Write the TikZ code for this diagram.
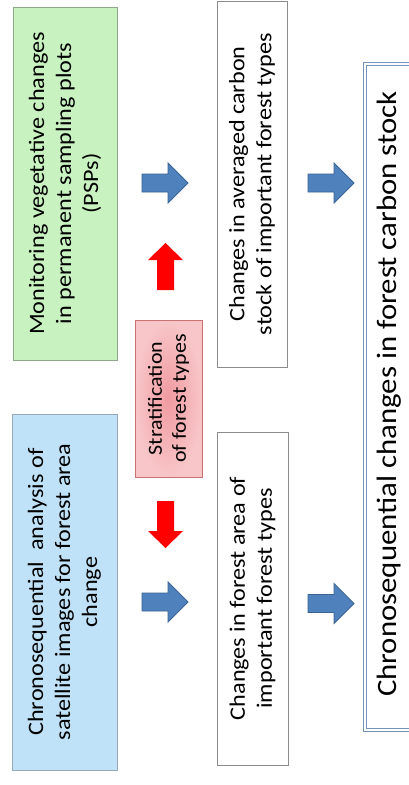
\documentclass[tikz,border=0pt]{standalone}
\usepackage{fontspec}
\setmainfont[FakeStretch=1.1]{Carlito}
\definecolor{greenfill}{HTML}{C8F2C0}
\definecolor{greenline}{HTML}{8FA58C}
\definecolor{bluefill}{HTML}{C0E2F8}
\definecolor{blueline}{HTML}{98A8B8}
\definecolor{redlight}{HTML}{F8C6C8}
\definecolor{redmid}{HTML}{F09AA0}
\definecolor{redline}{HTML}{C87272}
\definecolor{grayline}{HTML}{8C8C8C}
\definecolor{bigline}{HTML}{7393BA}
\definecolor{arrowblue}{HTML}{4F81BD}
\definecolor{arrowblueline}{HTML}{3A6496}
\definecolor{arrowred}{HTML}{FF0000}
\begin{document}
\begin{tikzpicture}[x=1pt,y=-1pt,
  box/.style={rotate=90, draw, align=center, inner sep=0pt, line width=0.8pt,
    font=\fontsize{22}{27}\selectfont},
  barrow/.pic={\filldraw[fill=arrowblue, draw=arrowblueline, line width=0.8pt]
    (0,-9) -- (26,-9) -- (26,-20) -- (46,0) -- (26,20) -- (26,9) -- (0,9) -- cycle;},
  rarrow/.pic={\fill[arrowred] (0,0) -- (17.5,17) -- (8.5,17) -- (8.5,47)
    -- (-8.5,47) -- (-8.5,17) -- (-17.5,17) -- cycle;}]
\useasboundingbox (0,0) rectangle (408,785);
\fill[white] (0,0) rectangle (408,785);

% left column
\node[box, fill=greenfill, draw=greenline, minimum width=353pt, minimum height=104pt]
  (green) at (65,183.5) {Monitoring vegetative changes\\in permanent sampling plots\\(PSPs)};
\node[box, fill=bluefill, draw=blueline, minimum width=356pt, minimum height=105pt]
  (blue) at (64.5,592) {Chronosequential~ analysis of\\satellite images for forest area\\change};

% stratification
\node[box, draw=redline, inner color=redmid, outer color=redlight,
  minimum width=157pt, minimum height=67pt, font=\fontsize{20}{24}\selectfont]
  (strat) at (168.5,398.5) {Stratification\\of forest types};

% middle column
\node[box, draw=grayline, fill=white, minimum width=366pt, minimum height=70pt]
  (carbon) at (252,184) {Changes in averaged carbon\\stock of important forest types};
\node[box, draw=grayline, fill=white, minimum width=333pt, minimum height=71pt]
  (area) at (252.5,598.5) {Changes in forest area of\\important forest types};

% big box
\node[rotate=90, draw=bigline, line width=1.1pt, double=white, double distance=2.4pt,
  minimum width=666pt, minimum height=85pt, inner sep=0pt] (big) at (407.5,397) {};
\node[rotate=90, inner sep=0pt, font=\fontsize{28}{32}\selectfont]
  (bigtext) at (389,394) {Chronosequential changes in forest carbon stock};

% arrows
\pic (a1) at (142,183) {barrow};
\pic (a2) at (142,602) {barrow};
\pic (a3) at (308,183) {barrow};
\pic (a4) at (308,603.5) {barrow};
\pic (r1) at (165.5,243) {rarrow};
\pic[rotate=180] (r2) at (165.5,548) {rarrow};
\end{tikzpicture}
\end{document}
